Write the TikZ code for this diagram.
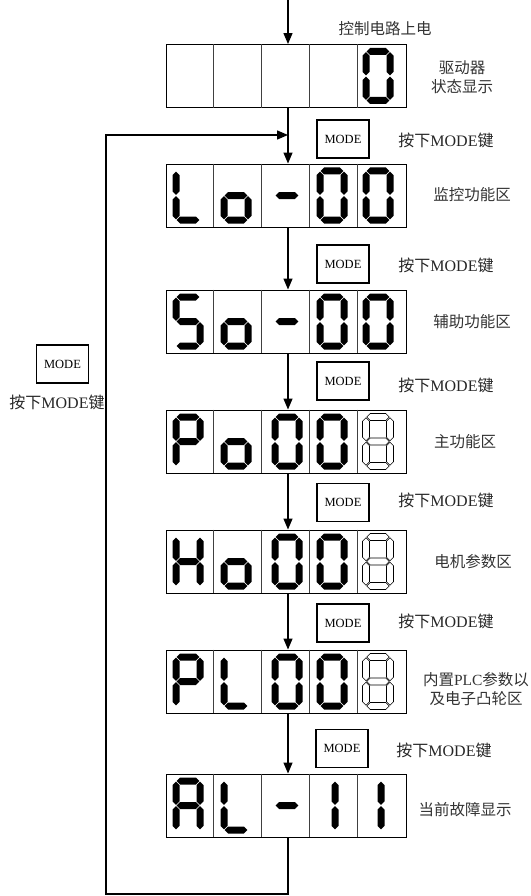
\documentclass[tikz,border=0pt]{standalone}
\usepackage{fontspec}
\setmainfont{Liberation Serif}
\newfontfamily\cjk{Noto Sans CJK SC}
\usetikzlibrary{arrows.meta}

% seven-segment helpers (pixel units, y downwards)
\newcommand{\hseg}[3]{\path[segfill] (#1+0.7,#3) -- (#1+4.2,#3-3.5) -- (#2-4.2,#3-3.5) -- (#2-0.7,#3) -- (#2-4.2,#3+3.5) -- (#1+4.2,#3+3.5) -- cycle;}
\newcommand{\vseg}[3]{\path[segfill] (#1,#2+0.7) -- (#1+3.5,#2+4.2) -- (#1+3.5,#3-4.2) -- (#1,#3-0.7) -- (#1-3.5,#3-4.2) -- (#1-3.5,#2+4.2) -- cycle;}
\newcommand{\SegA}{\hseg{-12}{12}{-24.5}}
\newcommand{\SegG}{\hseg{-12}{12}{0}}
\newcommand{\SegD}{\hseg{-12}{12}{24.5}}
\newcommand{\SegF}{\vseg{-12}{-24.5}{0}}
\newcommand{\SegB}{\vseg{12}{-24.5}{0}}
\newcommand{\SegE}{\vseg{-12}{0}{24.5}}
\newcommand{\SegC}{\vseg{12}{0}{24.5}}
\newcommand{\svZero}{\SegA\SegB\SegC\SegD\SegE\SegF}
\newcommand{\svEight}{\SegA\SegB\SegC\SegD\SegE\SegF\SegG}
\newcommand{\svL}{\SegF\SegE\SegD}
\newcommand{\svO}{\SegG\SegC\SegD\SegE}
\newcommand{\svDash}{\SegG}
\newcommand{\svS}{\SegA\SegF\SegG\SegC\SegD}
\newcommand{\svP}{\SegA\SegB\SegF\SegG\SegE}
\newcommand{\svH}{\SegF\SegB\SegG\SegE\SegC}
\newcommand{\svA}{\SegA\SegB\SegC\SegE\SegF\SegG}
\newcommand{\svOne}{\vseg{3}{-24.5}{0}\vseg{3}{0}{24.5}}
\newcommand{\svAt}[3]{\begin{scope}[shift={(#1,#2)}]#3\end{scope}}
\newcommand{\svGhost}[2]{\begin{scope}[shift={(#1,#2)},segfill/.style={draw=black,fill=white,line width=0.6pt}]\svEight\end{scope}}
\newcommand{\dispbox}[2]{%
  \node[disp] (#1) at (286,#2) {};
  \foreach \k in {1,2,3,4}
    \draw[divider] ([xshift=48*\k pt]#1.north west) -- ([xshift=48*\k pt]#1.south west);
}

\begin{document}
\begin{tikzpicture}[x=1pt,y=-1pt,
  segfill/.style={fill=black,draw=none},
  disp/.style={draw=black,line width=0.9pt,minimum width=240pt,minimum height=63pt,inner sep=0pt},
  divider/.style={draw=black!75,line width=0.7pt},
  modebox/.style={draw=black,line width=1.1pt,minimum width=52pt,minimum height=38pt,inner sep=0pt,font=\fontsize{12.5}{14}\selectfont},
  arr/.style={-{Triangle[length=11pt,width=9pt]},line width=1.3pt},
  lbl/.style={inner sep=0pt,text=black!80,font=\cjk\fontsize{15.5}{19}\selectfont,align=center},
  keylbl/.style={inner sep=0pt,text=black!85,font=\fontsize{16}{19}\selectfont}]
\useasboundingbox (0,0) rectangle (530,896);

% display boxes
\dispbox{d1}{76}
\dispbox{d2}{195.5}
\dispbox{d3}{321.5}
\dispbox{d4}{441.5}
\dispbox{d5}{561.5}
\dispbox{d6}{681.5}
\dispbox{d7}{805.5}

% row 1: _ _ _ _ 0
\svAt{378}{76}{\svZero}
% row 2: L o - 0 0
\svAt{188}{195.5}{\svL}
\svAt{236}{195.5}{\svO}
\svAt{287}{195.5}{\svDash}
\svAt{332}{195.5}{\svZero}
\svAt{378}{195.5}{\svZero}
% row 3: S o - 0 0
\svAt{188}{321.5}{\svS}
\svAt{236}{321.5}{\svO}
\svAt{287}{321.5}{\svDash}
\svAt{332}{321.5}{\svZero}
\svAt{378}{321.5}{\svZero}
% row 4: P o 0 0 8
\svAt{188}{441.5}{\svP}
\svAt{236}{441.5}{\svO}
\svAt{287}{441.5}{\svZero}
\svAt{332}{441.5}{\svZero}
\svGhost{378}{441.5}
% row 5: H o 0 0 8
\svAt{188}{561.5}{\svH}
\svAt{236}{561.5}{\svO}
\svAt{287}{561.5}{\svZero}
\svAt{332}{561.5}{\svZero}
\svGhost{378}{561.5}
% row 6: P L 0 0 8
\svAt{188}{681.5}{\svP}
\svAt{236}{681.5}{\svL}
\svAt{287}{681.5}{\svZero}
\svAt{332}{681.5}{\svZero}
\svGhost{378}{681.5}
% row 7: A L - 1 1
\svAt{188}{805.5}{\svA}
\svAt{236}{805.5}{\svL}
\svAt{287}{805.5}{\svDash}
\svAt{332}{805.5}{\svOne}
\svAt{378}{805.5}{\svOne}

% MODE keys
\node[modebox] (m1) at (343,139) {MODE};
\node[modebox] (m2) at (343,264) {MODE};
\node[modebox] (m3) at (343,381) {MODE};
\node[modebox] (m4) at (343,502.5) {MODE};
\node[modebox] (m5) at (343,623) {MODE};
\node[modebox] (m6) at (342,748.5) {MODE};
\node[modebox] (m0) at (62.5,364) {MODE};

% key labels
\node[keylbl] (k1) at (446,140) {{\cjk 按下}MODE{\cjk 键}};
\node[keylbl] (k2) at (446,265) {{\cjk 按下}MODE{\cjk 键}};
\node[keylbl] (k3) at (446,385) {{\cjk 按下}MODE{\cjk 键}};
\node[keylbl] (k4) at (446,500) {{\cjk 按下}MODE{\cjk 键}};
\node[keylbl] (k5) at (446,621) {{\cjk 按下}MODE{\cjk 键}};
\node[keylbl] (k6) at (444,750) {{\cjk 按下}MODE{\cjk 键}};
\node[keylbl] (k0) at (57,402) {{\cjk 按下}MODE{\cjk 键}};

% area labels
\node[lbl] (t0) at (385,29) {控制电路上电};
\node[lbl] (t1) at (462,77) {驱动器\\状态显示};
\node[lbl] (t2) at (472,195) {监控功能区};
\node[lbl] (t3) at (472,322) {辅助功能区};
\node[lbl] (t4) at (465,442) {主功能区};
\node[lbl] (t5) at (473,562) {电机参数区};
\node[lbl] (t6) at (476,689) {内置{\fontspec{Liberation Serif}PLC}参数以\\及电子凸轮区};
\node[lbl] (t7) at (465,810) {当前故障显示};

% connectors
\coordinate (start) at (288,0);
\coordinate (junc) at (288,135);
\coordinate (loopc) at (106,894);
\draw[arr] (start) -- (start |- d1.north);
\draw[arr] ([xshift=2pt]d1.south) -- ([xshift=2pt]d2.north);
\draw[arr] ([xshift=2pt]d2.south) -- ([xshift=2pt]d3.north);
\draw[arr] ([xshift=2pt]d3.south) -- ([xshift=2pt]d4.north);
\draw[arr] ([xshift=2pt]d4.south) -- ([xshift=2pt]d5.north);
\draw[arr] ([xshift=2pt]d5.south) -- ([xshift=2pt]d6.north);
\draw[arr] ([xshift=2pt]d6.south) -- ([xshift=2pt]d7.north);
\draw[arr] ([xshift=2pt]d7.south) |- (loopc) |- (junc);
\end{tikzpicture}
\end{document}
